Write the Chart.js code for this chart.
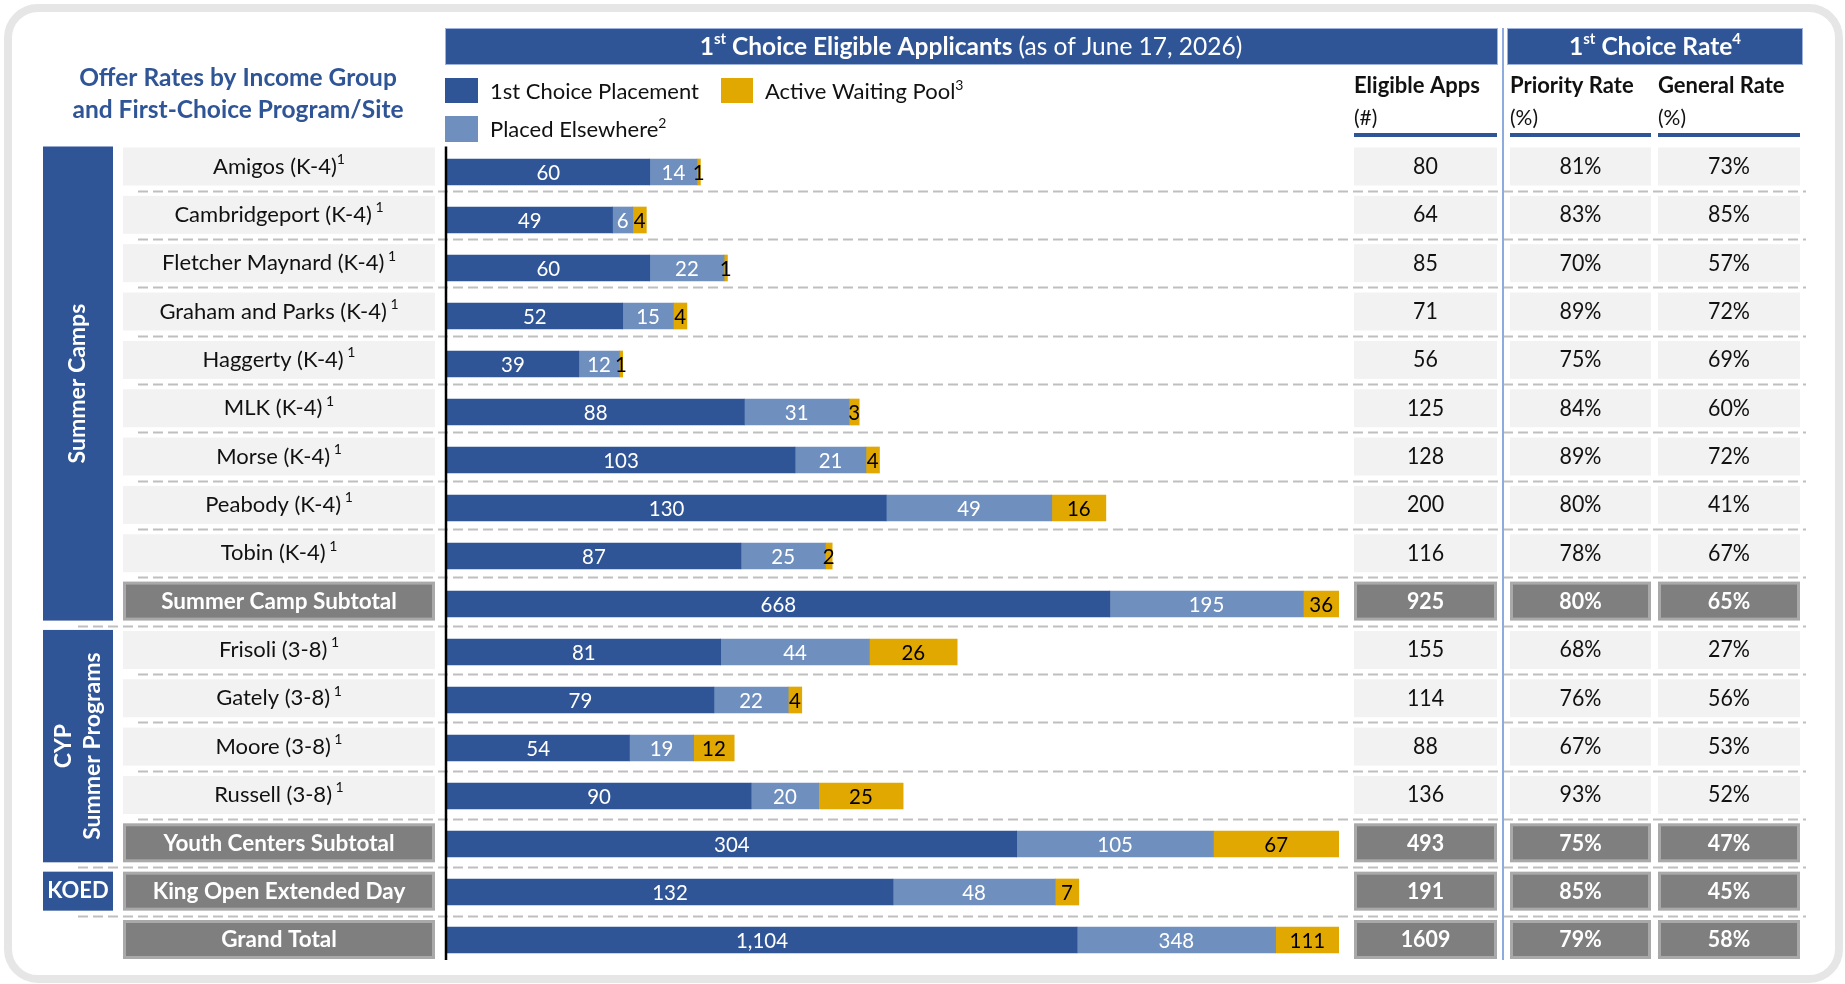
<!DOCTYPE html>
<html>
<head>
<meta charset="utf-8">
<script src="https://cdn.jsdelivr.net/npm/chart.js@4/dist/chart.umd.min.js"></script>
<style>
html,body{margin:0;padding:0;background:#fff;overflow:hidden;}
#c{display:block;}
</style>
</head>
<body>
<canvas id="c" width="1845" height="984"></canvas>
<script>
// ---------------- DATA ----------------
const categories = [
  "Amigos (K-4)", "Cambridgeport (K-4)", "Fletcher Maynard (K-4)", "Graham and Parks (K-4)",
  "Haggerty (K-4)", "MLK (K-4)", "Morse (K-4)", "Peabody (K-4)", "Tobin (K-4)",
  "Summer Camp Subtotal",
  "Frisoli (3-8)", "Gately (3-8)", "Moore (3-8)", "Russell (3-8)",
  "Youth Centers Subtotal",
  "King Open Extended Day",
  "Grand Total"
];
const labelNotes = ["1"," 1"," 1"," 1"," 1"," 1"," 1"," 1"," 1","", " 1"," 1"," 1"," 1","","",""];
const firstChoice     = [60, 49, 60, 52, 39, 88, 103, 130, 87, 668, 81, 79, 54, 90, 304, 132, 1104];
const placedElsewhere = [14,  6, 22, 15, 12, 31,  21,  49, 25, 195, 44, 22, 19, 20, 105,  48,  348];
const waitingPool     = [ 1,  4,  1,  4,  1,  3,   4,  16,  2,  36, 26,  4, 12, 25,  67,   7,  111];
const eligibleApps    = [80, 64, 85, 71, 56, 125, 128, 200, 116, 925, 155, 114, 88, 136, 493, 191, 1609];
const priorityRate    = [81, 83, 70, 89, 75, 84, 89, 80, 78, 80, 68, 76, 67, 93, 75, 85, 79];
const generalRate     = [73, 85, 57, 72, 69, 60, 72, 41, 67, 65, 27, 56, 53, 52, 47, 45, 58];

const seriesNames = ["1st Choice Placement", "Placed Elsewhere", "Active Waiting Pool"];
const seriesNotes = ["", "2", "3"];
const seriesColors = ["#2F5597", "#6F8FBE", "#E0A800"];
const seriesTextColors = ["#FFFFFF", "#FFFFFF", "#000000"];

// rows whose bars are shown as a full-width share of their own total
const normalizedRows = ["Summer Camp Subtotal", "Youth Centers Subtotal", "Grand Total"];
// rows drawn with grey summary cells
const summaryRows = ["Summer Camp Subtotal", "Youth Centers Subtotal", "King Open Extended Day", "Grand Total"];

const groups = [
  {lines: ["Summer Camps"], first: "Amigos (K-4)", last: "Summer Camp Subtotal", rotate: true},
  {lines: ["CYP", "Summer Programs"], first: "Frisoli (3-8)", last: "Youth Centers Subtotal", rotate: true},
  {lines: ["KOED"], first: "King Open Extended Day", last: "King Open Extended Day", rotate: false}
];

const titleLines = ["Offer Rates by Income Group", "and First-Choice Program/Site"];
const header1 = {lead: "1", sup: "st", bold: " Choice Eligible Applicants ", normal: "(as of June 17, 2026)"};
const header2 = {lead: "1", sup: "st", bold: " Choice Rate", note: "4"};
const columnHeads = [["Eligible Apps", "(#)"], ["Priority Rate", "(%)"], ["General Rate", "(%)"]];

// ---------------- HELPERS ----------------
const FF = 'Lato, "Open Sans", "DejaVu Sans", sans-serif';
const F = (size, bold) => (bold ? 'bold ' : '') + size + 'px ' + FF;
const SXN = 0.93;

function runsWidth(ctx, runs) {
  let w = 0;
  for (const r of runs) { ctx.font = r.font; w += ctx.measureText(r.text).width * (r.sx || 1); }
  return w;
}
function drawRuns(ctx, runs, x, y, align, color) {
  const w = runsWidth(ctx, runs);
  let cx = align === 'center' ? x - w / 2 : (align === 'right' ? x - w : x);
  ctx.textBaseline = 'middle';
  ctx.textAlign = 'left';
  for (const r of runs) {
    ctx.font = r.font;
    ctx.fillStyle = r.color || color;
    const sx = r.sx || 1;
    ctx.save();
    ctx.translate(cx, y + (r.dy || 0));
    ctx.scale(sx, 1);
    ctx.fillText(r.text, 0, 0);
    ctx.restore();
    cx += ctx.measureText(r.text).width * sx;
  }
}
const fmt = v => v.toLocaleString('en-US');

const series = [firstChoice, placedElsewhere, waitingPool];
const isNorm = categories.map(c => normalizedRows.includes(c));
const isSummary = categories.map(c => summaryRows.includes(c));
const rowSum = categories.map((_, i) => series.reduce((s, a) => s + a[i], 0));

const datasets = [];
series.forEach((arr, s) => {
  datasets.push({
    label: seriesNames[s], raw: arr, labelColor: seriesTextColors[s],
    data: arr.map((v, i) => isNorm[i] ? null : v),
    backgroundColor: seriesColors[s], xAxisID: 'x', stack: 'sites', grouped: false, barThickness: 26
  });
});
series.forEach((arr, s) => {
  datasets.push({
    label: seriesNames[s] + ' (share of total)', raw: arr, labelColor: seriesTextColors[s],
    data: arr.map((v, i) => isNorm[i] ? v / rowSum[i] * 100 : null),
    backgroundColor: seriesColors[s], xAxisID: 'x2', stack: 'totals', grouped: false, barThickness: 26
  });
});

// layout constants
const LABEL_X = [123, 435];
const COLS = [[1354, 1497], [1510, 1651], [1658, 1800]];
const BOX_H = 38;
const TABLE_SHIFT = 5.5;

function rowY(chart, i) {
  const n = categories.length - 1;
  return chart.scales.y.getPixelForValue(i) - TABLE_SHIFT * (n - i) / n;
}

function cell(ctx, x0, x1, yc, summary) {
  const top = yc - BOX_H / 2;
  if (summary) {
    ctx.fillStyle = '#A9A9A9';
    ctx.fillRect(x0, top - 1, x1 - x0, BOX_H + 1);
    ctx.fillStyle = '#7F7F7F';
    ctx.fillRect(x0 + 3, top + 2, x1 - x0 - 6, BOX_H - 5);
  } else {
    ctx.fillStyle = '#F2F2F2';
    ctx.fillRect(x0, top, x1 - x0, BOX_H);
  }
}

const decor = {
  id: 'decor',
  beforeDraw(chart) {
    const ctx = chart.ctx;
    ctx.save();
    ctx.fillStyle = '#fff';
    ctx.fillRect(0, 0, chart.width, chart.height);
    // frame
    ctx.strokeStyle = '#E7E6E6';
    ctx.lineWidth = 8;
    ctx.beginPath();
    ctx.roundRect(8, 8, 1831, 971, 30);
    ctx.stroke();

    // title
    drawRuns(ctx, [{text: titleLines[0], font: F(24.5, true)}], 238, 78, 'center', '#2F5597');
    drawRuns(ctx, [{text: titleLines[1], font: F(24.5, true)}], 238, 110, 'center', '#2F5597');

    // header bars
    ctx.fillStyle = '#2F5597';
    ctx.fillRect(445, 28, 1053, 37);
    ctx.fillRect(1507, 28, 296, 37);
    ctx.strokeStyle = '#9DB3DD';
    ctx.lineWidth = 1;
    ctx.strokeRect(445.5, 28.5, 1052, 36);
    ctx.strokeRect(1507.5, 28.5, 295, 36);
    drawRuns(ctx, [
      {text: header1.lead, font: F(24.5, true)},
      {text: header1.sup, font: F(15, true), dy: -8},
      {text: header1.bold, font: F(24.5, true)},
      {text: header1.normal, font: F(24.5, false)}
    ], 971, 47, 'center', '#fff');
    drawRuns(ctx, [
      {text: header2.lead, font: F(24.5, true)},
      {text: header2.sup, font: F(15, true), dy: -8},
      {text: header2.bold, font: F(24.5, true)},
      {text: header2.note, font: F(15, true), dy: -8}
    ], 1655, 47, 'center', '#fff');

    // legend
    const legendPos = [
      {sw: [445, 78, 33, 25], tx: 490, ty: 92},
      {sw: [445, 116, 33, 26], tx: 490, ty: 130},
      {sw: [721, 78, 32, 25], tx: 765, ty: 92}
    ];
    for (let s = 0; s < 3; s++) {
      const p = legendPos[s];
      ctx.fillStyle = chart.data.datasets[s].backgroundColor;
      ctx.fillRect(p.sw[0], p.sw[1], p.sw[2], p.sw[3]);
      const runs = [{text: chart.data.datasets[s].label, font: F(22, false)}];
      if (seriesNotes[s]) runs.push({text: seriesNotes[s], font: F(14, false), dy: -7});
      drawRuns(ctx, runs, p.tx, p.ty, 'left', '#111');
    }

    // column heads
    COLS.forEach((c, k) => {
      drawRuns(ctx, [{text: columnHeads[k][0], font: F(22, true)}], c[0], 86, 'left', '#111');
      drawRuns(ctx, [{text: columnHeads[k][1], font: F(21, false)}], c[0], 118, 'left', '#111');
      ctx.fillStyle = '#2F5597';
      ctx.fillRect(c[0], 133, c[1] - c[0], 4);
    });

    const n = categories.length;
    // dashed separators
    ctx.strokeStyle = '#BFBFBF';
    ctx.lineWidth = 2.2;
    ctx.setLineDash([10, 5]);
    const groupEnds = groups.map(g => categories.indexOf(g.last));
    for (let i = 0; i < n - 1; i++) {
      const yb = Math.round((rowY(chart, i) + rowY(chart, i + 1)) / 2) + 0.5;
      const x0 = groupEnds.includes(i) ? 78 : 138;
      ctx.beginPath();
      ctx.moveTo(x0, yb);
      ctx.lineTo(1806, yb);
      ctx.stroke();
    }
    ctx.setLineDash([]);

    // group boxes
    groups.forEach(g => {
      const a = categories.indexOf(g.first), b = categories.indexOf(g.last);
      const top = rowY(chart, a) - 20, bot = rowY(chart, b) + 19;
      ctx.fillStyle = '#2F5597';
      ctx.fillRect(43, top, 70, bot - top);
      const cx = 78, cy = (top + bot) / 2;
      if (g.rotate) {
        ctx.save();
        ctx.translate(cx, cy);
        ctx.rotate(-Math.PI / 2);
        const L = g.lines.length;
        g.lines.forEach((t, k) => {
          drawRuns(ctx, [{text: t, font: F(23, true)}], 0, (k - (L - 1) / 2) * 29, 'center', '#fff');
        });
        ctx.restore();
      } else {
        drawRuns(ctx, [{text: g.lines[0], font: F(22, true)}], cx, cy, 'center', '#fff');
      }
    });

    // row label boxes and table cells
    for (let i = 0; i < n; i++) {
      const yc = rowY(chart, i);
      const sum = isSummary[i];
      cell(ctx, LABEL_X[0], LABEL_X[1], yc, sum);
      const runs = [{text: categories[i], font: F(sum ? 22.5 : 22, sum)}];
      if (labelNotes[i]) runs.push({text: labelNotes[i], font: F(14, false), dy: -7});
      drawRuns(ctx, runs, (LABEL_X[0] + LABEL_X[1]) / 2, yc, 'center', sum ? '#fff' : '#111');

      const vals = [String(eligibleApps[i]), priorityRate[i] + '%', generalRate[i] + '%'];
      COLS.forEach((c, k) => {
        cell(ctx, c[0], c[1], yc, sum);
        drawRuns(ctx, [{text: vals[k], font: F(23, sum), sx: SXN}], (c[0] + c[1]) / 2, yc, 'center', sum ? '#fff' : '#111');
      });
    }

    // blue vertical separator
    ctx.strokeStyle = '#8FAADC';
    ctx.lineWidth = 2;
    ctx.beginPath();
    ctx.moveTo(1503, 28);
    ctx.lineTo(1503, rowY(chart, n - 1) + 20);
    ctx.stroke();
    ctx.restore();
  },
  afterDatasetsDraw(chart) {
    const ctx = chart.ctx;
    ctx.save();
    chart.data.datasets.forEach((ds, di) => {
      const meta = chart.getDatasetMeta(di);
      meta.data.forEach((el, i) => {
        if (ds.data[i] == null) return;
        const p = el.getCenterPoint();
        drawRuns(ctx, [{text: fmt(ds.raw[i]), font: F(22, false), sx: SXN}], p.x, p.y + 1, 'center', ds.labelColor);
      });
    });
    // category axis line
    const x0 = chart.scales.x.getPixelForValue(0);
    const n = categories.length;
    ctx.strokeStyle = '#000';
    ctx.lineWidth = 2.5;
    ctx.beginPath();
    ctx.moveTo(x0 - 1, rowY(chart, 0) - 20);
    ctx.lineTo(x0 - 1, chart.scales.y.getPixelForValue(n - 1) + 20);
    ctx.stroke();
    ctx.restore();
  }
};

new Chart(document.getElementById('c'), {
  type: 'bar',
  data: {labels: categories, datasets},
  options: {
    indexAxis: 'y',
    responsive: false,
    animation: false,
    devicePixelRatio: 1,
    layout: {padding: {left: 447, right: 506, top: 148, bottom: 20}},
    scales: {
      y: {type: 'category', display: false, offset: true, stacked: true},
      x: {type: 'linear', axis: 'x', display: false, min: 0, max: 264, stacked: true},
      x2: {type: 'linear', axis: 'x', display: false, min: 0, max: 100, stacked: true}
    },
    plugins: {legend: {display: false}, tooltip: {enabled: false}}
  },
  plugins: [decor]
});
</script>
</body>
</html>
